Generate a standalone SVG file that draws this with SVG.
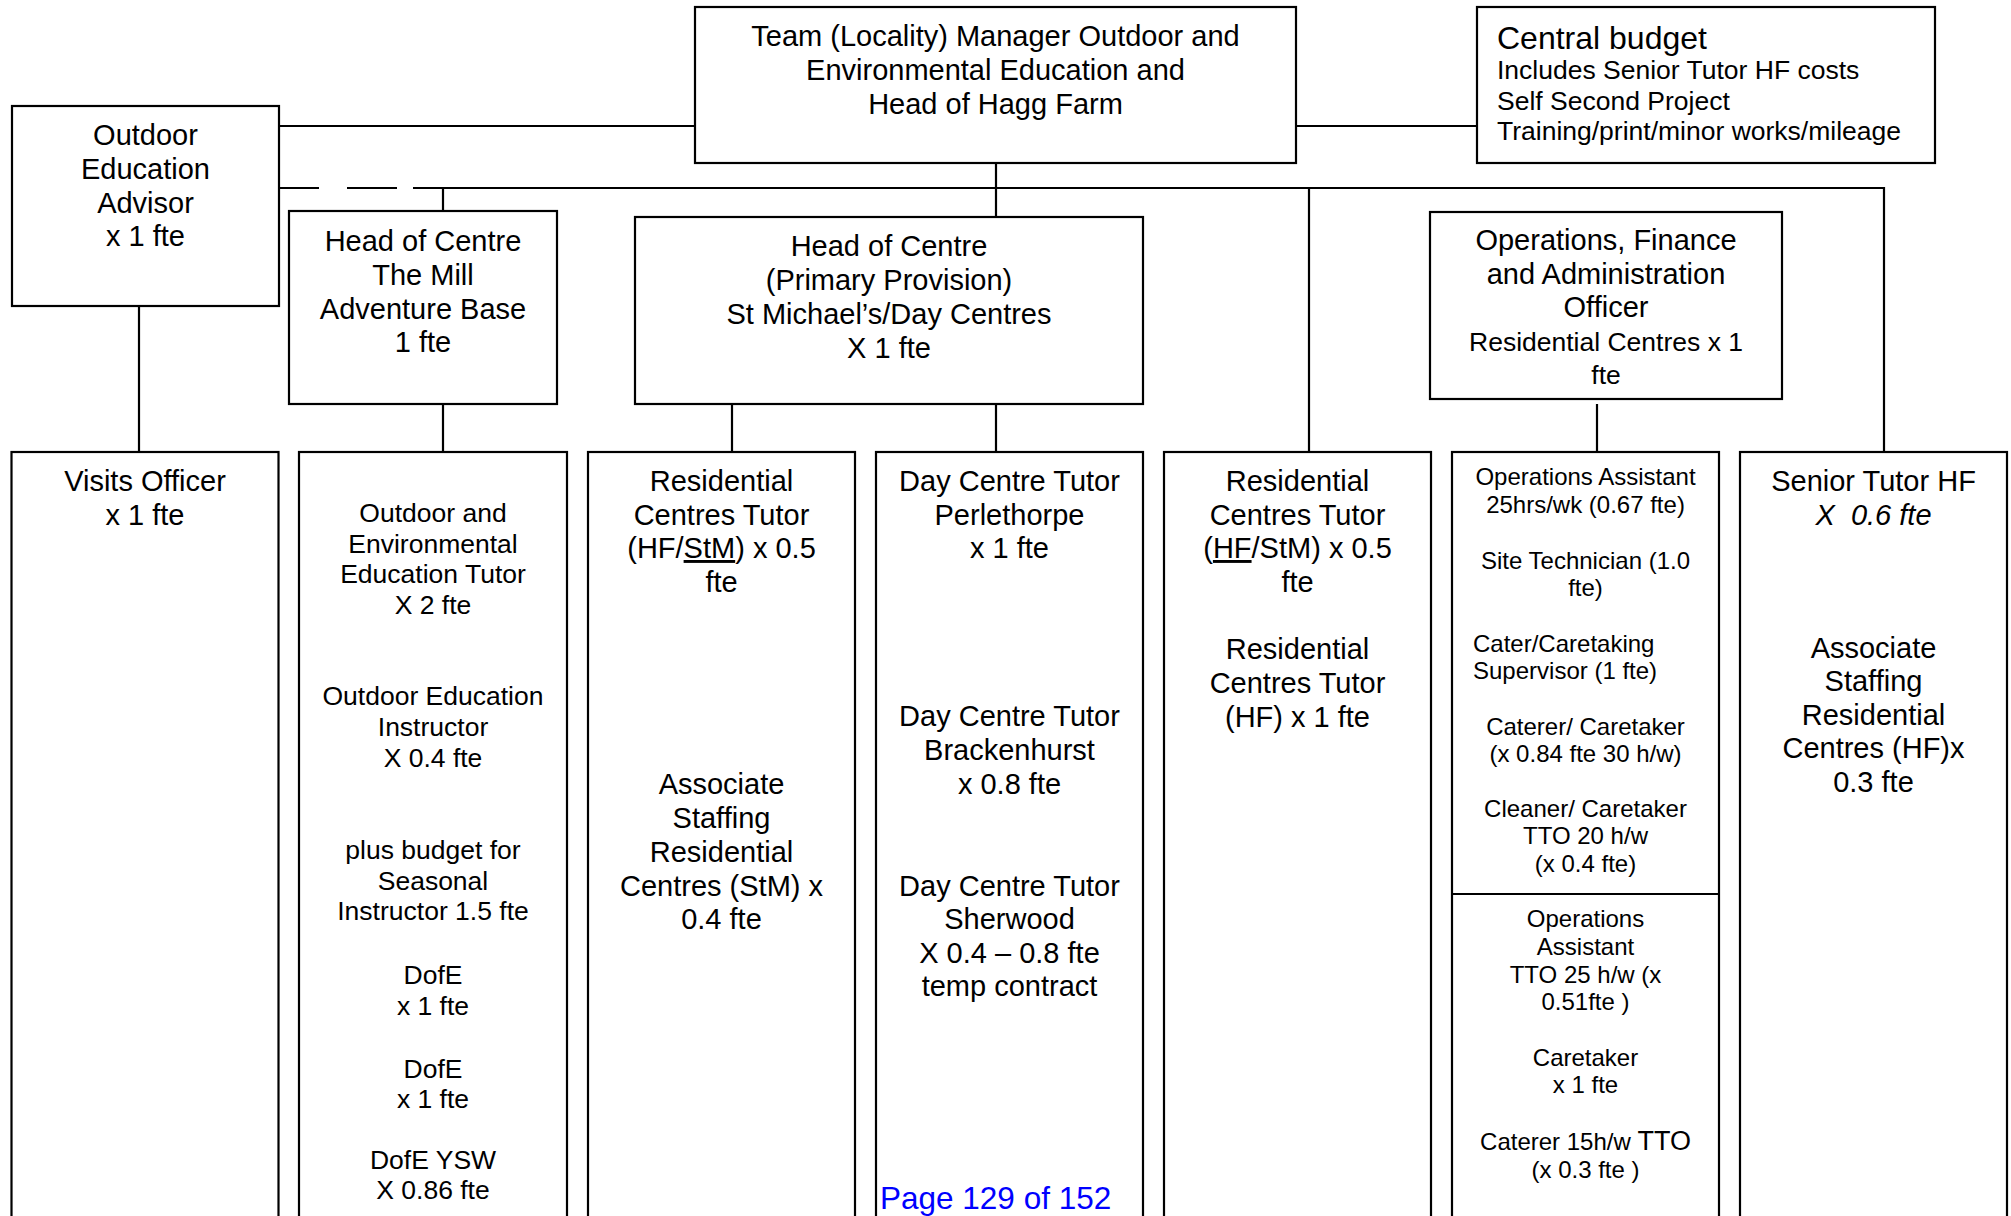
<svg xmlns="http://www.w3.org/2000/svg" width="2011" height="1216" viewBox="0 0 2011 1216">
<style>
.box{fill:#fff;stroke:#000;stroke-width:2.2}
.ln{fill:none;stroke:#000;stroke-width:2.2}
text{font-family:"Liberation Sans",Arial,sans-serif;fill:#000}
.t{font-size:29px;text-anchor:middle}
.s{font-size:26.5px;text-anchor:middle}
.x{font-size:24px;text-anchor:middle}
.u{text-decoration:underline}
</style>
<rect width="2011" height="1216" fill="#fff"/>
<g id="connectors">
<path class="ln" d="M279 126 H695 M1296 126 H1477"/>
<path class="ln" d="M279 188 H319 M347 188 H397 M413 188 H1884 V452"/>
<path class="ln" d="M139 306 V452"/>
<path class="ln" d="M443 188 V211 M443 404 V452"/>
<path class="ln" d="M996 163 V217 M996 404 V452 M732 404 V452"/>
<path class="ln" d="M1309 188 V452"/>
<path class="ln" d="M1597 404 V452"/>
</g>
<g id="team-manager">
<rect class="box" x="695" y="7" width="601" height="156"/>
<text class="t" x="995.5" y="46">Team (Locality) Manager Outdoor and</text>
<text class="t" x="995.5" y="80">Environmental Education and</text>
<text class="t" x="995.5" y="114">Head of Hagg Farm</text>
</g>
<g id="central-budget">
<rect class="box" x="1477" y="7" width="458" height="156"/>
<text x="1497" y="49" font-size="32">Central budget</text>
<text x="1497" y="79" font-size="26.5">Includes Senior Tutor HF costs</text>
<text x="1497" y="110" font-size="26.5">Self Second Project</text>
<text x="1497" y="140" font-size="26.5">Training/print/minor works/mileage</text>
</g>
<g id="outdoor-education-advisor">
<rect class="box" x="12" y="106" width="267" height="200"/>
<text class="t" x="145.5" y="144.5">Outdoor</text>
<text class="t" x="145.5" y="178.5">Education</text>
<text class="t" x="145.5" y="212.5">Advisor</text>
<text class="t" x="145.5" y="245.5">x 1 fte</text>
</g>
<g id="head-mill">
<rect class="box" x="289" y="211" width="268" height="193"/>
<text class="t" x="423" y="251">Head of Centre</text>
<text class="t" x="423" y="284.5">The Mill</text>
<text class="t" x="423" y="318.5">Adventure Base</text>
<text class="t" x="423" y="352">1 fte</text>
</g>
<g id="head-primary">
<rect class="box" x="635" y="217" width="508" height="187"/>
<text class="t" x="889" y="256">Head of Centre</text>
<text class="t" x="889" y="290">(Primary Provision)</text>
<text class="t" x="889" y="324">St Michael’s/Day Centres</text>
<text class="t" x="889" y="357.5">X 1 fte</text>
</g>
<g id="ops-finance-officer">
<rect class="box" x="1430" y="212" width="352" height="187"/>
<text class="t" x="1606" y="250">Operations, Finance</text>
<text class="t" x="1606" y="284">and Administration</text>
<text class="t" x="1606" y="317">Officer</text>
<text class="s" x="1606" y="351">Residential Centres x 1</text>
<text class="s" x="1606" y="384">fte</text>
</g>
<g id="visits-officer">
<rect class="box" x="11.5" y="452" width="267" height="800"/>
<text class="t" x="145" y="490.5">Visits Officer</text>
<text class="t" x="145" y="524.5">x 1 fte</text>
</g>
<g id="mill-staff">
<rect class="box" x="299" y="452" width="268" height="800"/>
<text class="s" x="433" y="522">Outdoor and</text>
<text class="s" x="433" y="552.5">Environmental</text>
<text class="s" x="433" y="583">Education Tutor</text>
<text class="s" x="433" y="614">X 2 fte</text>
<text class="s" x="433" y="705">Outdoor Education</text>
<text class="s" x="433" y="736">Instructor</text>
<text class="s" x="433" y="767">X 0.4 fte</text>
<text class="s" x="433" y="859">plus budget for</text>
<text class="s" x="433" y="890">Seasonal</text>
<text class="s" x="433" y="920">Instructor 1.5 fte</text>
<text class="s" x="433" y="984">DofE</text>
<text class="s" x="433" y="1015">x 1 fte</text>
<text class="s" x="433" y="1078">DofE</text>
<text class="s" x="433" y="1108">x 1 fte</text>
<text class="s" x="433" y="1169">DofE YSW</text>
<text class="s" x="433" y="1199">X 0.86 fte</text>
</g>
<g id="res-tutor-stm">
<rect class="box" x="588" y="452" width="267" height="800"/>
<text class="t" x="721.5" y="490.5">Residential</text>
<text class="t" x="721.5" y="524.5">Centres Tutor</text>
<text class="t" x="721.5" y="558">(HF/<tspan class="u">StM</tspan>) x 0.5</text>
<text class="t" x="721.5" y="591.5">fte</text>
<text class="t" x="721.5" y="793.5">Associate</text>
<text class="t" x="721.5" y="828">Staffing</text>
<text class="t" x="721.5" y="861.5">Residential</text>
<text class="t" x="721.5" y="895.5">Centres (StM) x</text>
<text class="t" x="721.5" y="929">0.4 fte</text>
</g>
<g id="day-centre-tutors">
<rect class="box" x="876" y="452" width="267" height="800"/>
<text class="t" x="1009.5" y="490.5">Day Centre Tutor</text>
<text class="t" x="1009.5" y="524.5">Perlethorpe</text>
<text class="t" x="1009.5" y="558">x 1 fte</text>
<text class="t" x="1009.5" y="725.5">Day Centre Tutor</text>
<text class="t" x="1009.5" y="760">Brackenhurst</text>
<text class="t" x="1009.5" y="793.5">x 0.8 fte</text>
<text class="t" x="1009.5" y="895.5">Day Centre Tutor</text>
<text class="t" x="1009.5" y="929">Sherwood</text>
<text class="t" x="1009.5" y="963">X 0.4 – 0.8 fte</text>
<text class="t" x="1009.5" y="995.5">temp contract</text>
</g>
<g id="res-tutor-hf">
<rect class="box" x="1164" y="452" width="267" height="800"/>
<text class="t" x="1297.5" y="490.5">Residential</text>
<text class="t" x="1297.5" y="524.5">Centres Tutor</text>
<text class="t" x="1297.5" y="558">(<tspan class="u">HF</tspan>/StM) x 0.5</text>
<text class="t" x="1297.5" y="591.5">fte</text>
<text class="t" x="1297.5" y="659">Residential</text>
<text class="t" x="1297.5" y="693">Centres Tutor</text>
<text class="t" x="1297.5" y="726.5">(HF) x 1 fte</text>
</g>
<g id="operations-staff">
<rect class="box" x="1452" y="452" width="267" height="800"/>
<path class="ln" d="M1452 894 H1719"/>
<text class="x" x="1585.5" y="485">Operations Assistant</text>
<text class="x" x="1585.5" y="513">25hrs/wk (0.67 fte)</text>
<text class="x" x="1585.5" y="569">Site Technician (1.0</text>
<text class="x" x="1585.5" y="596">fte)</text>
<text x="1473" y="652" font-size="24">Cater/Caretaking</text>
<text x="1473" y="679" font-size="24">Supervisor (1 fte)</text>
<text class="x" x="1585.5" y="735">Caterer/ Caretaker</text>
<text class="x" x="1585.5" y="762">(x 0.84 fte 30 h/w)</text>
<text class="x" x="1585.5" y="817">Cleaner/ Caretaker</text>
<text class="x" x="1585.5" y="844">TTO 20 h/w</text>
<text class="x" x="1585.5" y="872">(x 0.4 fte)</text>
<text class="x" x="1585.5" y="927">Operations</text>
<text class="x" x="1585.5" y="955">Assistant</text>
<text class="x" x="1585.5" y="983">TTO 25 h/w (x</text>
<text class="x" x="1585.5" y="1010">0.51fte )</text>
<text class="x" x="1585.5" y="1066">Caretaker</text>
<text class="x" x="1585.5" y="1093">x 1 fte</text>
<text class="x" x="1585.5" y="1150">Caterer 15h/w <tspan font-size="27">TTO</tspan></text>
<text class="x" x="1585.5" y="1178">(x 0.3 fte )</text>
</g>
<g id="senior-tutor-hf">
<rect class="box" x="1740" y="452" width="267" height="800"/>
<text class="t" x="1873.5" y="490.5">Senior Tutor HF</text>
<text class="t" x="1873.5" y="525" font-style="italic" xml:space="preserve">X  0.6 fte</text>
<text class="t" x="1873.5" y="658">Associate</text>
<text class="t" x="1873.5" y="691">Staffing</text>
<text class="t" x="1873.5" y="725">Residential</text>
<text class="t" x="1873.5" y="758">Centres (HF)x</text>
<text class="t" x="1873.5" y="792">0.3 fte</text>
</g>
<text x="880" y="1209" font-size="31.5" style="fill:#0000ff">Page 129 of 152</text>
</svg>
